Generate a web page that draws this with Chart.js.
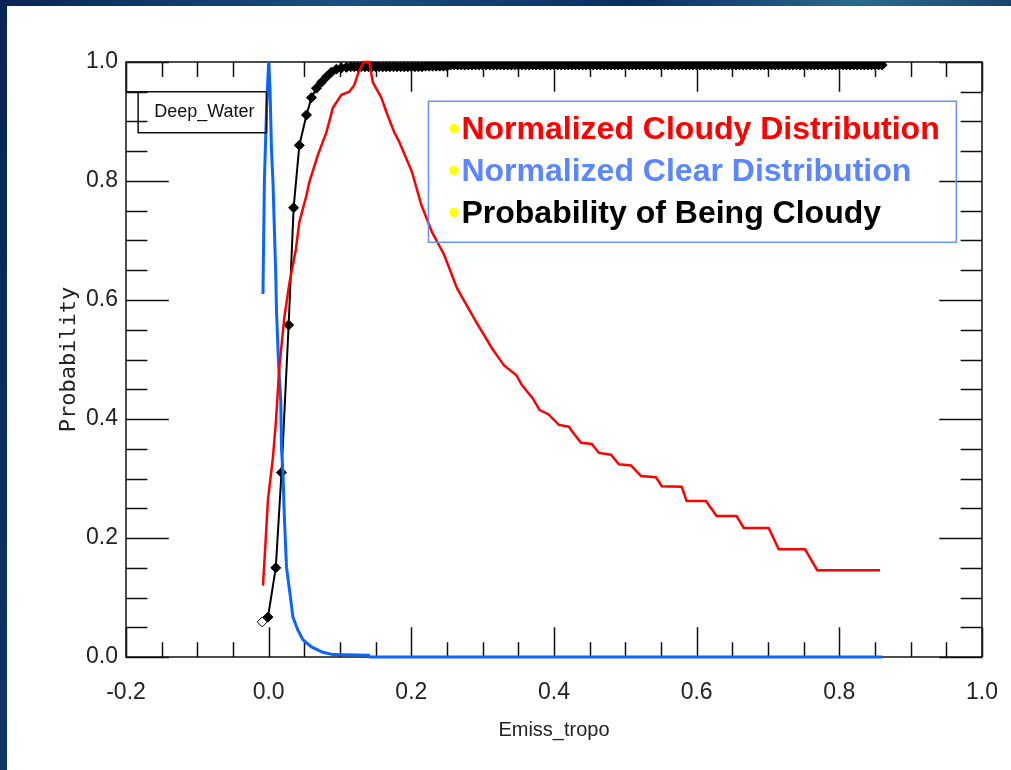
<!DOCTYPE html>
<html>
<head>
<meta charset="utf-8">
<title>Deep_Water - Emiss_tropo</title>
<script src="https://cdn.jsdelivr.net/npm/chart.js@4.4.0/dist/chart.umd.min.js"></script>
<style>
  html, body { margin: 0; padding: 0; }
  body {
    width: 1011px; height: 770px; overflow: hidden; position: relative;
    background: linear-gradient(100deg, #082455 0%, #1b4f7f 30%, #0b2c62 55%, #2a6a8f 75%, #0a2356 100%);
  }
  #panel { position: absolute; left: 7px; top: 6px; width: 1004px; height: 764px; background: #fff; }
</style>
</head>
<body>
<div id="panel"><canvas id="chart" width="1004" height="764"></canvas></div>
<script>
const panelLabel = "Deep_Water";
const xTitle = "Emiss_tropo";
const yTitle = "Probability";
const seriesNames = [
  "Normalized Cloudy Distribution",
  "Normalized Clear Distribution",
  "Probability of Being Cloudy"
];

const xTicks = [-0.2, 0.0, 0.2, 0.4, 0.6, 0.8, 1.0];
const yTicks = [0.0, 0.2, 0.4, 0.6, 0.8, 1.0];

// cloudy distribution (red)
const cloudyX = [-0.008, -0.005, -0.001, 0.006, 0.010, 0.015, 0.022, 0.029, 0.038, 0.043,
  0.053, 0.057, 0.069, 0.081, 0.090, 0.102, 0.113, 0.120, 0.126, 0.133,
  0.141, 0.146, 0.158, 0.165, 0.176, 0.183, 0.201, 0.214, 0.229, 0.246,
  0.264, 0.291, 0.313, 0.330, 0.347, 0.355, 0.370, 0.380, 0.392, 0.407,
  0.421, 0.425, 0.438, 0.453, 0.463, 0.480, 0.491, 0.508, 0.522, 0.543,
  0.551, 0.579, 0.586, 0.613, 0.628, 0.656, 0.666, 0.701, 0.715, 0.752,
  0.769, 0.857];
const cloudyY = [0.12, 0.18, 0.264, 0.336, 0.393, 0.487, 0.571, 0.628, 0.684, 0.731,
  0.776, 0.798, 0.844, 0.882, 0.923, 0.945, 0.95, 0.961, 0.983, 1.0,
  1.0, 0.966, 0.94, 0.916, 0.882, 0.866, 0.815, 0.76, 0.714, 0.676,
  0.62, 0.563, 0.519, 0.49, 0.474, 0.457, 0.435, 0.415, 0.408, 0.39,
  0.387, 0.38, 0.36, 0.358, 0.343, 0.34, 0.324, 0.322, 0.304, 0.302,
  0.287, 0.286, 0.262, 0.262, 0.237, 0.237, 0.217, 0.217, 0.181, 0.181,
  0.146, 0.146];

// clear distribution (blue)
const clearX = [-0.008, -0.006, -0.003, 0.0, 0.002, 0.004, 0.006, 0.010, 0.011, 0.014,
  0.017, 0.018, 0.020, 0.022, 0.025, 0.031, 0.034, 0.041, 0.048, 0.060,
  0.076, 0.090, 0.140, 0.142, 0.860];
const clearY = [0.61, 0.80, 0.92, 1.0, 0.95, 0.85, 0.80, 0.64, 0.58, 0.49,
  0.43, 0.35, 0.31, 0.235, 0.151, 0.096, 0.067, 0.045, 0.029, 0.017,
  0.008, 0.004, 0.003, 0.0, 0.0];

// probability of being cloudy (black, diamonds)
const probX = [-0.009, -0.001, 0.010, 0.018, 0.028, 0.035, 0.043, 0.053, 0.060, 0.067,
  0.074, 0.081, 0.088, 0.095, 0.102, 0.109, 0.115,
  0.12, 0.125, 0.13, 0.135, 0.14, 0.145, 0.15, 0.155, 0.16, 0.165,
  0.17, 0.175, 0.18, 0.185, 0.19, 0.195, 0.2, 0.205, 0.21, 0.215,
  0.22, 0.225, 0.23, 0.235, 0.24, 0.245, 0.25, 0.255, 0.26, 0.265,
  0.27, 0.275, 0.28, 0.285, 0.29, 0.295, 0.3, 0.305, 0.31, 0.315,
  0.32, 0.325, 0.33, 0.335, 0.34, 0.345, 0.35, 0.355, 0.36, 0.365,
  0.37, 0.375, 0.38, 0.385, 0.39, 0.395, 0.4, 0.405, 0.41, 0.415,
  0.42, 0.425, 0.43, 0.435, 0.44, 0.445, 0.45, 0.455, 0.46, 0.465,
  0.47, 0.475, 0.48, 0.485, 0.49, 0.495, 0.5, 0.505, 0.51, 0.515,
  0.52, 0.525, 0.53, 0.535, 0.54, 0.545, 0.55, 0.555, 0.56, 0.565,
  0.57, 0.575, 0.58, 0.585, 0.59, 0.595, 0.6, 0.605, 0.61, 0.615,
  0.62, 0.625, 0.63, 0.635, 0.64, 0.645, 0.65, 0.655, 0.66, 0.665,
  0.67, 0.675, 0.68, 0.685, 0.69, 0.695, 0.7, 0.705, 0.71, 0.715,
  0.72, 0.725, 0.73, 0.735, 0.74, 0.745, 0.75, 0.755, 0.76, 0.765,
  0.77, 0.775, 0.78, 0.785, 0.79, 0.795, 0.8, 0.805, 0.81, 0.815,
  0.82, 0.825, 0.83, 0.835, 0.84, 0.845, 0.85, 0.855, 0.86];
const probY = [0.059, 0.067, 0.15, 0.31, 0.558, 0.755, 0.86, 0.911, 0.94, 0.956,
  0.966, 0.975, 0.983, 0.988, 0.99, 0.991, 0.992,
  0.992, 0.992, 0.992, 0.992, 0.992, 0.992, 0.992, 0.992, 0.992, 0.992,
  0.992, 0.992, 0.992, 0.992, 0.992, 0.992, 0.992, 0.992, 0.992, 0.992,
  0.993, 0.993, 0.993, 0.993, 0.993, 0.993, 0.993, 0.995, 0.995, 0.995,
  0.995, 0.995, 0.995, 0.995, 0.995, 0.995, 0.995, 0.995, 0.995, 0.995,
  0.995, 0.995, 0.995, 0.995, 0.995, 0.995, 0.995, 0.995, 0.995, 0.995,
  0.995, 0.995, 0.995, 0.995, 0.995, 0.995, 0.995, 0.995, 0.995, 0.995,
  0.995, 0.995, 0.995, 0.995, 0.995, 0.995, 0.995, 0.995, 0.995, 0.995,
  0.995, 0.995, 0.995, 0.995, 0.995, 0.995, 0.995, 0.995, 0.995, 0.995,
  0.995, 0.995, 0.995, 0.995, 0.995, 0.995, 0.995, 0.995, 0.995, 0.995,
  0.995, 0.995, 0.995, 0.995, 0.995, 0.995, 0.995, 0.995, 0.995, 0.995,
  0.995, 0.995, 0.995, 0.995, 0.995, 0.995, 0.995, 0.995, 0.995, 0.995,
  0.995, 0.995, 0.995, 0.995, 0.995, 0.995, 0.995, 0.995, 0.995, 0.995,
  0.995, 0.995, 0.995, 0.995, 0.995, 0.995, 0.995, 0.995, 0.995, 0.995,
  0.995, 0.995, 0.995, 0.995, 0.995, 0.995, 0.995, 0.995, 0.995, 0.995,
  0.995, 0.995, 0.995, 0.995, 0.995, 0.995, 0.995, 0.995, 0.995];

const minorStep = 0.05;
const axisFont = "'Liberation Sans', Arial, sans-serif";
const legendColors = ["#ff0000", "#5b86ff", "#000000"];

function toPoints(xs, ys) {
  return xs.map((x, i) => ({ x, y: ys[i] }));
}

// IDL-looking frame: box, inward ticks on every side, label box and legend
const idlFrame = {
  id: "idlFrame",
  beforeDatasetsDraw(chart) {
    const { ctx, chartArea: a, scales: { x, y } } = chart;
    ctx.save();
    ctx.strokeStyle = "#111";
    ctx.lineWidth = 1.5;
    ctx.strokeRect(a.left, a.top, a.right - a.left, a.bottom - a.top);

    const xLen = (a.bottom - a.top) * 0.05;
    const yLen = (a.right - a.left) * 0.05;
    ctx.beginPath();
    let i = 0;
    for (let v = x.min; v <= x.max + 1e-9; v += minorStep, i++) {
      const px = Math.round(x.getPixelForValue(v)) + 0.5;
      const len = i % 4 === 0 ? xLen : xLen / 2;
      ctx.moveTo(px, a.bottom); ctx.lineTo(px, a.bottom - len);
      ctx.moveTo(px, a.top); ctx.lineTo(px, a.top + len);
    }
    i = 0;
    for (let v = y.min; v <= y.max + 1e-9; v += minorStep, i++) {
      const py = Math.round(y.getPixelForValue(v)) + 0.5;
      const len = i % 4 === 0 ? yLen : yLen / 2;
      ctx.moveTo(a.left, py); ctx.lineTo(a.left + len, py);
      ctx.moveTo(a.right, py); ctx.lineTo(a.right - len, py);
    }
    ctx.stroke();
    ctx.restore();
  },
  afterDatasetsDraw(chart) {
    const { ctx, chartArea: a, scales: { x, y } } = chart;
    ctx.save();

    // Deep_Water tag
    const bl = x.getPixelForValue(-0.183), br = x.getPixelForValue(-0.003);
    const bt = y.getPixelForValue(0.95), bb = y.getPixelForValue(0.881);
    ctx.strokeStyle = "#111";
    ctx.lineWidth = 1.5;
    ctx.beginPath();
    ctx.moveTo(a.left, bt); ctx.lineTo(br, bt); ctx.lineTo(br, bb);
    ctx.lineTo(bl, bb); ctx.lineTo(bl, bt);
    ctx.stroke();
    ctx.fillStyle = "#111";
    ctx.font = "18px " + axisFont;
    ctx.textAlign = "center";
    ctx.textBaseline = "middle";
    ctx.fillText(panelLabel, (bl + br) / 2 + 2, (bt + bb) / 2);

    // legend box
    const ll = x.getPixelForValue(0.224), lr = x.getPixelForValue(0.964);
    const lt = y.getPixelForValue(0.934), lb = y.getPixelForValue(0.697);
    ctx.strokeStyle = "#6b8fff";
    ctx.lineWidth = 1.5;
    ctx.strokeRect(ll, lt, lr - ll, lb - lt);
    ctx.font = "bold 32px 'Liberation Sans', Arial, sans-serif";
    ctx.textAlign = "left";
    ctx.textBaseline = "alphabetic";
    chart.data.datasets.forEach((ds, k) => {
      const base = lt + 38 + k * 42;
      ctx.fillStyle = "#ffff00";
      ctx.fillText("\u2022", ll + 20, base);
      ctx.fillStyle = legendColors[k];
      ctx.fillText(ds.label, ll + 33, base);
    });
    ctx.restore();
  }
};

new Chart(document.getElementById("chart"), {
  type: "scatter",
  data: {
    datasets: [
      {
        label: seriesNames[0],
        data: toPoints(cloudyX, cloudyY),
        showLine: true,
        borderColor: "#ff0000",
        borderWidth: 2.5,
        pointRadius: 0,
        clip: 2,
        order: 0
      },
      {
        label: seriesNames[1],
        data: toPoints(clearX, clearY),
        showLine: true,
        borderColor: "#0a64ff",
        borderWidth: 3,
        pointRadius: 0,
        clip: 2,
        order: 1
      },
      {
        label: seriesNames[2],
        data: toPoints(probX, probY),
        showLine: true,
        borderColor: "#000000",
        borderWidth: 2,
        pointStyle: "rectRot",
        pointRadius: 5,
        pointBorderWidth: 1,
        pointBorderColor: "#000000",
        pointBackgroundColor: ctx => ctx.dataIndex === 0 ? "#ffffff" : "#000000",
        clip: 0,
        order: 2
      }
    ]
  },
  options: {
    responsive: false,
    animation: false,
    layout: { padding: { left: 0, top: 56, right: 29, bottom: 0 } },
    plugins: { legend: { display: false }, tooltip: { enabled: false } },
    scales: {
      x: {
        type: "linear",
        min: -0.2,
        max: 1.0,
        afterBuildTicks: scale => { scale.ticks = xTicks.map(v => ({ value: v })); },
        afterFit: scale => { scale.height = 113; scale.paddingLeft = 0; scale.paddingRight = 0; },
        grid: { display: false, drawTicks: false },
        border: { display: false },
        ticks: {
          padding: 22,
          maxRotation: 0,
          autoSkip: false,
          color: "#222",
          font: { family: axisFont, size: 23 },
          callback: v => v.toFixed(1)
        },
        title: {
          display: true,
          text: xTitle,
          color: "#222",
          font: { family: axisFont, size: 20 },
          padding: { top: 0, bottom: 28 }
        }
      },
      y: {
        type: "linear",
        min: 0,
        max: 1.0,
        afterBuildTicks: scale => { scale.ticks = yTicks.map(v => ({ value: v })); },
        afterFit: scale => { scale.width = 119; },
        grid: { display: false, drawTicks: false },
        border: { display: false },
        ticks: {
          padding: 8,
          autoSkip: false,
          color: "#222",
          font: { family: axisFont, size: 23 },
          callback: v => v.toFixed(1)
        },
        title: {
          display: true,
          text: yTitle,
          color: "#222",
          font: { family: "'DejaVu Sans Mono', monospace", size: 22 },
          padding: { top: 49, bottom: 0 }
        }
      }
    }
  },
  plugins: [idlFrame]
});
</script>
</body>
</html>
